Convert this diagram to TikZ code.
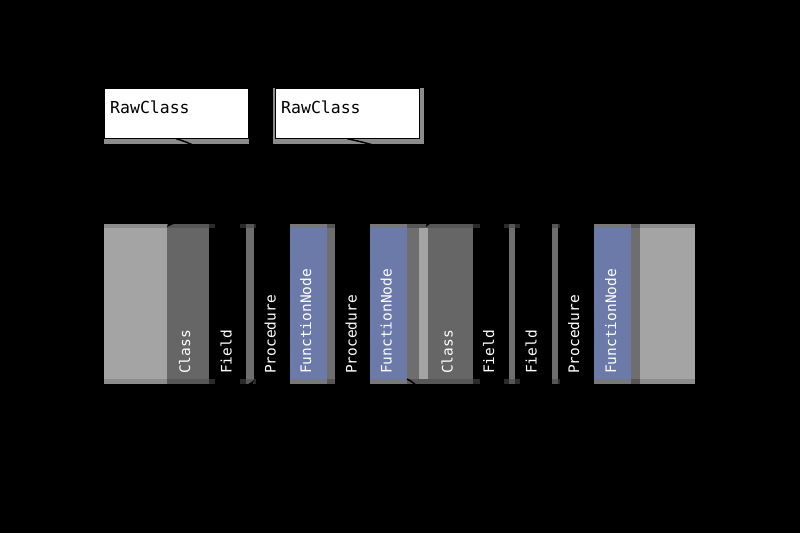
\documentclass[tikz,border=0pt]{standalone}
\usepackage{fontspec}
\setmonofont{DejaVu Sans Mono}
\usepackage{xcolor}
\usetikzlibrary{arrows.meta, positioning}

\definecolor{lgray}{HTML}{A4A4A4}
\definecolor{mgray}{HTML}{666666}
\definecolor{bluec}{HTML}{6B7AA9}
\definecolor{stripc}{HTML}{6E6E6E}
\definecolor{barl}{HTML}{8C8C8C}
\definecolor{barm}{HTML}{575757}
\definecolor{barb}{HTML}{787878}
\definecolor{bard}{HTML}{2A2A2A}

\begin{document}
\begin{tikzpicture}[x=1pt, y=-1pt, >=Stealth,
        colbox/.style 2 args={rectangle, inner sep=0pt, outer sep=0pt, anchor=north west, minimum height=160pt, fill=#2,
            path picture={\fill[#1] ([yshift=-4pt]path picture bounding box.north west) rectangle ([yshift=5pt]path picture bounding box.south east);}},
        raw/.style={rectangle, draw=black, line width=0.8pt, fill=white, anchor=north west, inner sep=0pt, minimum height=50pt},
        rawlbl/.style={anchor=base west, inner sep=0pt, font=\fontsize{16.5}{16.5}\selectfont\ttfamily},
        lbl/.style={rotate=90, anchor=base west, inner sep=0pt, text=white, font=\fontsize{14.5}{14.5}\selectfont\ttfamily},
        link/.style={->, draw=black, line width=1.5pt}]

    \fill[black] (0,0) rectangle (800,533);
    \useasboundingbox (0,0) rectangle (800,533);

    % top row
    \fill[barl] (104,88) rectangle (249,144);
    \node[raw, minimum width=144pt] (raw1) at (104,88) {};
    \node[rawlbl] (traw1) at ([xshift=6pt, yshift=-25.5pt]raw1.north west) {RawClass};
    \fill[barl] (273,88) rectangle (424,144);
    \node[raw, minimum width=144pt] (raw2) at (275,88) {};
    \node[rawlbl] (traw2) at ([xshift=6pt, yshift=-25.5pt]raw2.north west) {RawClass};

    % bottom row
    \node[colbox={lgray}{barl}, minimum width=63pt] (pad1) at (104,224) {};
    \node[colbox={mgray}{barm}, minimum width=42pt, right=0pt of pad1] (cls1) {};
    \node[colbox={stripc}{barm}, minimum width=8pt, right=37pt of cls1] (sep1) {};
    \node[colbox={bluec}{barb}, minimum width=37pt, right=36pt of sep1] (fn1) {};
    \node[colbox={stripc}{barm}, minimum width=8pt, right=0pt of fn1] (fs1) {};
    \node[colbox={bluec}{barb}, minimum width=37pt, right=35pt of fs1] (fn2) {};
    \node[colbox={stripc}{barm}, minimum width=12pt, right=0pt of fn2] (fs2) {};
    \node[colbox={lgray}{barm}, minimum width=9pt, right=0pt of fs2] (ls2) {};
    \node[colbox={mgray}{barm}, minimum width=45pt, right=0pt of ls2] (cls2) {};
    \node[colbox={stripc}{barm}, minimum width=6pt, right=36pt of cls2] (sep2) {};
    \node[colbox={stripc}{barm}, minimum width=6pt, right=37pt of sep2] (sep3) {};
    \node[colbox={bluec}{barb}, minimum width=37pt, right=36pt of sep3] (fn3) {};
    \node[colbox={stripc}{barm}, minimum width=9pt, right=0pt of fn3] (fs3) {};
    \node[colbox={lgray}{barl}, minimum width=55pt, right=0pt of fs3] (pad2) {};

    % frame ends of the field / procedure slots
    \foreach \xa/\xb in {209/215, 240/246, 254/256, 473/480, 504/509, 515/520, 558/560} {
        \fill[bard] (\xa,224) rectangle (\xb,228);
        \fill[bard] (\xa,379) rectangle (\xb,384);
    }

    % labels
    \node[lbl] (tcls1) at (190,374) {Class};
    \node[lbl] (tfld1) at (231.7,374) {Field};
    \node[lbl] (tprc1) at (275.5,374) {Procedure};
    \node[lbl] (tfn1) at (311,374) {FunctionNode};
    \node[lbl] (tprc2) at (356.5,374) {Procedure};
    \node[lbl] (tfn2) at (391.5,374) {FunctionNode};
    \node[lbl] (tcls2) at (452.5,374) {Class};
    \node[lbl] (tfld2) at (494,374) {Field};
    \node[lbl] (tfld3) at (536.5,374) {Field};
    \node[lbl] (tprc3) at (579,374) {Procedure};
    \node[lbl] (tfn3) at (616,374) {FunctionNode};

    % connectors
    \draw[link] (raw1.south) .. controls +(60,18) and +(40,-40) .. ([yshift=-3pt]cls1.north west);
    \draw[link] (raw2.south) .. controls +(60,12) and +(30,-50) .. ([xshift=-2pt, yshift=-3pt]cls2.north west);
    \draw[link] ([yshift=5pt]fs2.south west) .. controls +(60,30) and +(-20,30) .. ([yshift=4pt]sep1.south east);
\end{tikzpicture}
\end{document}
